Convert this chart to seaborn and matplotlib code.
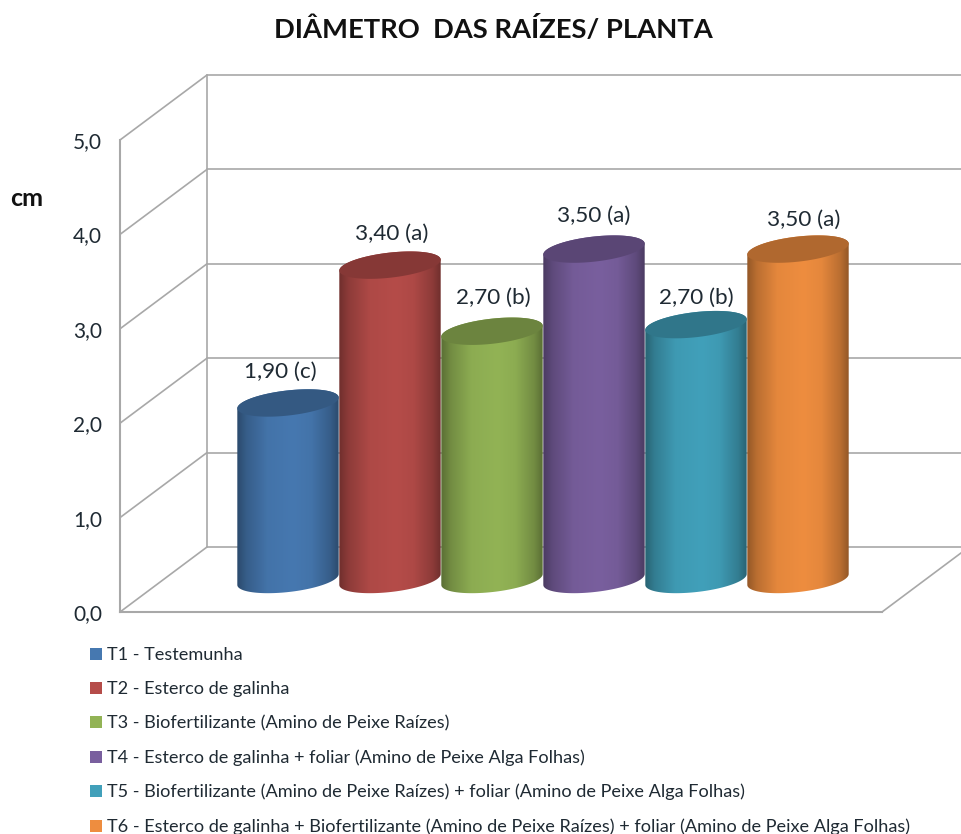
#!/usr/bin/env python3
import numpy as np
import pandas as pd
import matplotlib
matplotlib.use("Agg")
import matplotlib.pyplot as plt
from matplotlib.colors import to_rgb
from matplotlib.patches import Patch, Polygon
import seaborn as sns

# ------------------------------- data ----------------------------------
TREATMENTS = ["T1", "T2", "T3", "T4", "T5", "T6"]
# bar heights as drawn in the picture (the printed labels are rounded a bit higher)
DIAMETER = [1.87, 3.33, 2.63, 3.50, 2.70, 3.50]
BAR_LABELS = ["1,90 (c)", "3,40 (a)", "2,70 (b)", "3,50 (a)", "2,70 (b)", "3,50 (a)"]
LEGEND_LABELS = [
    "T1 - Testemunha",
    "T2 - Esterco de galinha",
    "T3 - Biofertilizante (Amino de Peixe Raízes)",
    "T4 - Esterco de galinha + foliar (Amino de Peixe Alga Folhas)",
    "T5 - Biofertilizante (Amino de Peixe Raízes) + foliar (Amino de Peixe Alga Folhas)",
    "T6 - Esterco de galinha + Biofertilizante (Amino de Peixe Raízes) + foliar (Amino de Peixe Alga Folhas)",
]
Y_TICKS = [0, 1, 2, 3, 4, 5]
Y_TICK_LABELS = ["0,0", "1,0", "2,0", "3,0", "4,0", "5,0"]
COLORS = ["#4678B0", "#B54C49", "#92B355", "#795F9E", "#41A0BA", "#EE8D3F"]

TITLE = "DIÂMETRO  DAS RAÍZES/ PLANTA"
GRID_COLOR = "#a8a8a8"
TEXT_COLOR = "#1f2a33"

# ------------------------------ layout ---------------------------------
W, H = 962, 834
LEFT, RIGHT, BOTTOM, TOP = 120, 882, 612, 140   # front plane, pixels
BAR_PX = 102
DEPTH_X_PX, DEPTH_Y_PX = 87, 65
FIRST_CENTER_PX = 244.5
LABEL_SHIFT_X_PX = [-8, 2, 1, 0, 0, 6]
LABEL_SHIFT_Y_PX = [31, 31, 33, 33, 27, 29]

sns.set_theme(style="white")
plt.rcParams["font.family"] = ["Lato", "DejaVu Sans"]

fig = plt.figure(figsize=(W / 100, H / 100), dpi=100)
ax = fig.add_axes([LEFT / W, 1 - BOTTOM / H, (RIGHT - LEFT) / W, (BOTTOM - TOP) / H])

df = pd.DataFrame({"tratamento": TREATMENTS, "diametro": DIAMETER})
sns.barplot(
    data=df, x="tratamento", y="diametro", hue="tratamento",
    palette=COLORS, width=1.0, dodge=False, legend=False, ax=ax,
)

ax.set_xlim((LEFT - FIRST_CENTER_PX) / BAR_PX, (RIGHT - FIRST_CENTER_PX) / BAR_PX)
ax.set_ylim(0, 5)
ax.set_xticks([])
ax.set_xlabel("")
ax.set_ylabel("")
ax.set_yticks(Y_TICKS)
ax.set_yticklabels(Y_TICK_LABELS, fontsize=15, color=TEXT_COLOR)
ax.tick_params(axis="y", length=0, pad=13)
for side in ("top", "right"):
    ax.spines[side].set_visible(False)
for side in ("left", "bottom"):
    ax.spines[side].set_color(GRID_COLOR)
    ax.spines[side].set_linewidth(1.5)

px_y = (BOTTOM - TOP) / 5
dx = DEPTH_X_PX / BAR_PX
dy = DEPTH_Y_PX / px_y
xl, xr = ax.get_xlim()

# back wall and side wall, drawn from the y ticks
grid = dict(color=GRID_COLOR, lw=1.2, clip_on=False, zorder=1)
for y in Y_TICKS:
    ax.plot([xl, xl + dx], [y, y + dy], **grid)
    ax.plot([xl + dx, xr + dx], [y + dy, y + dy], **grid)
ax.plot([xl + dx, xl + dx], [dy, 5 + dy], **grid)
ax.plot([xr, xr + dx], [0, dy], **grid)


# --------------------------- cylinders ---------------------------------
def _ellipse(cx, cy, t):
    # tilted ellipse, pixel sized, returned in data units
    a, b, th = 51.0, 12.5, np.deg2rad(6.5)
    ex = a * np.cos(t) * np.cos(th) - b * np.sin(t) * np.sin(th)
    ey = a * np.cos(t) * np.sin(th) + b * np.sin(t) * np.cos(th)
    return np.column_stack([cx + ex / BAR_PX, cy + ey / px_y])


def _draw_cylinder(cx, height, color, order):
    base_y = dy / 2
    top_y = base_y + height
    rgb = np.array(to_rgb(color))
    t0 = np.arctan2(-12.5 * np.sin(np.deg2rad(6.5)), 51.0 * np.cos(np.deg2rad(6.5)))

    lower = _ellipse(cx, base_y, np.linspace(t0 - np.pi, t0, 60))
    upper = _ellipse(cx, top_y, np.linspace(t0, t0 + np.pi, 60))
    body = Polygon(np.vstack([lower, upper]), closed=True, fc="none", ec="none",
                   transform=ax.transData, zorder=order)
    ax.add_patch(body)

    # shading across the barrel: dark edges, flat light middle
    u = np.linspace(0, 1, 256)
    shade = np.interp(u, [0, 0.10, 0.30, 0.55, 0.72, 0.90, 1], [0.60, 0.78, 0.96, 1.0, 0.96, 0.78, 0.58])
    strip = np.clip(rgb[None, None, :] * shade[None, :, None], 0, 1)
    half = 0.5 * 1.02
    im = ax.imshow(strip, aspect="auto", interpolation="bilinear",
                   extent=(cx - half, cx + half, 0, top_y + 0.4), zorder=order)
    im.set_clip_path(body)

    cap = Polygon(_ellipse(cx, top_y, np.linspace(0, 2 * np.pi, 120)), closed=True,
                  fc=rgb * 0.74, ec="none", zorder=order + 0.1, clip_on=False)
    ax.add_patch(cap)
    return top_y


bars = list(ax.patches)[:len(TREATMENTS)]
for i, bar in enumerate(bars):
    cx = bar.get_x() + bar.get_width() / 2 + dx / 2
    height = bar.get_height()
    bar.set_visible(False)
    top_y = _draw_cylinder(cx, height, COLORS[i], 3 + i)
    ax.annotate(BAR_LABELS[i], (cx, top_y),
                xytext=(LABEL_SHIFT_X_PX[i] * 0.72, LABEL_SHIFT_Y_PX[i] * 0.72),
                textcoords="offset points", ha="center", va="center",
                fontsize=16.2, color=TEXT_COLOR, zorder=20)

ax.set_xlim(xl, xr)
ax.set_ylim(0, 5)

# ---------------------------- text -------------------------------------
fig.text(493 / W, 1 - 29 / H, TITLE, ha="center", va="center",
         fontsize=19.7, fontweight="bold", color="#111111")
fig.text(27 / W, 1 - 199 / H, "cm", ha="center", va="center",
         fontsize=18, fontweight="bold", color="#111111")

handles = [Patch(fc=c, ec="none", label=lab) for c, lab in zip(COLORS, LEGEND_LABELS)]
fig.legend(
    handles=handles, loc="upper left", bbox_to_anchor=(85 / W, 1 - 642 / H),
    bbox_transform=fig.transFigure, frameon=False, fontsize=13.05, labelcolor=TEXT_COLOR,
    handlelength=0.64, handleheight=0.64, handletextpad=0.26, labelspacing=0.99,
    borderpad=0.3, borderaxespad=0,
)

fig.savefig("out.png", dpi=100, facecolor="white")
